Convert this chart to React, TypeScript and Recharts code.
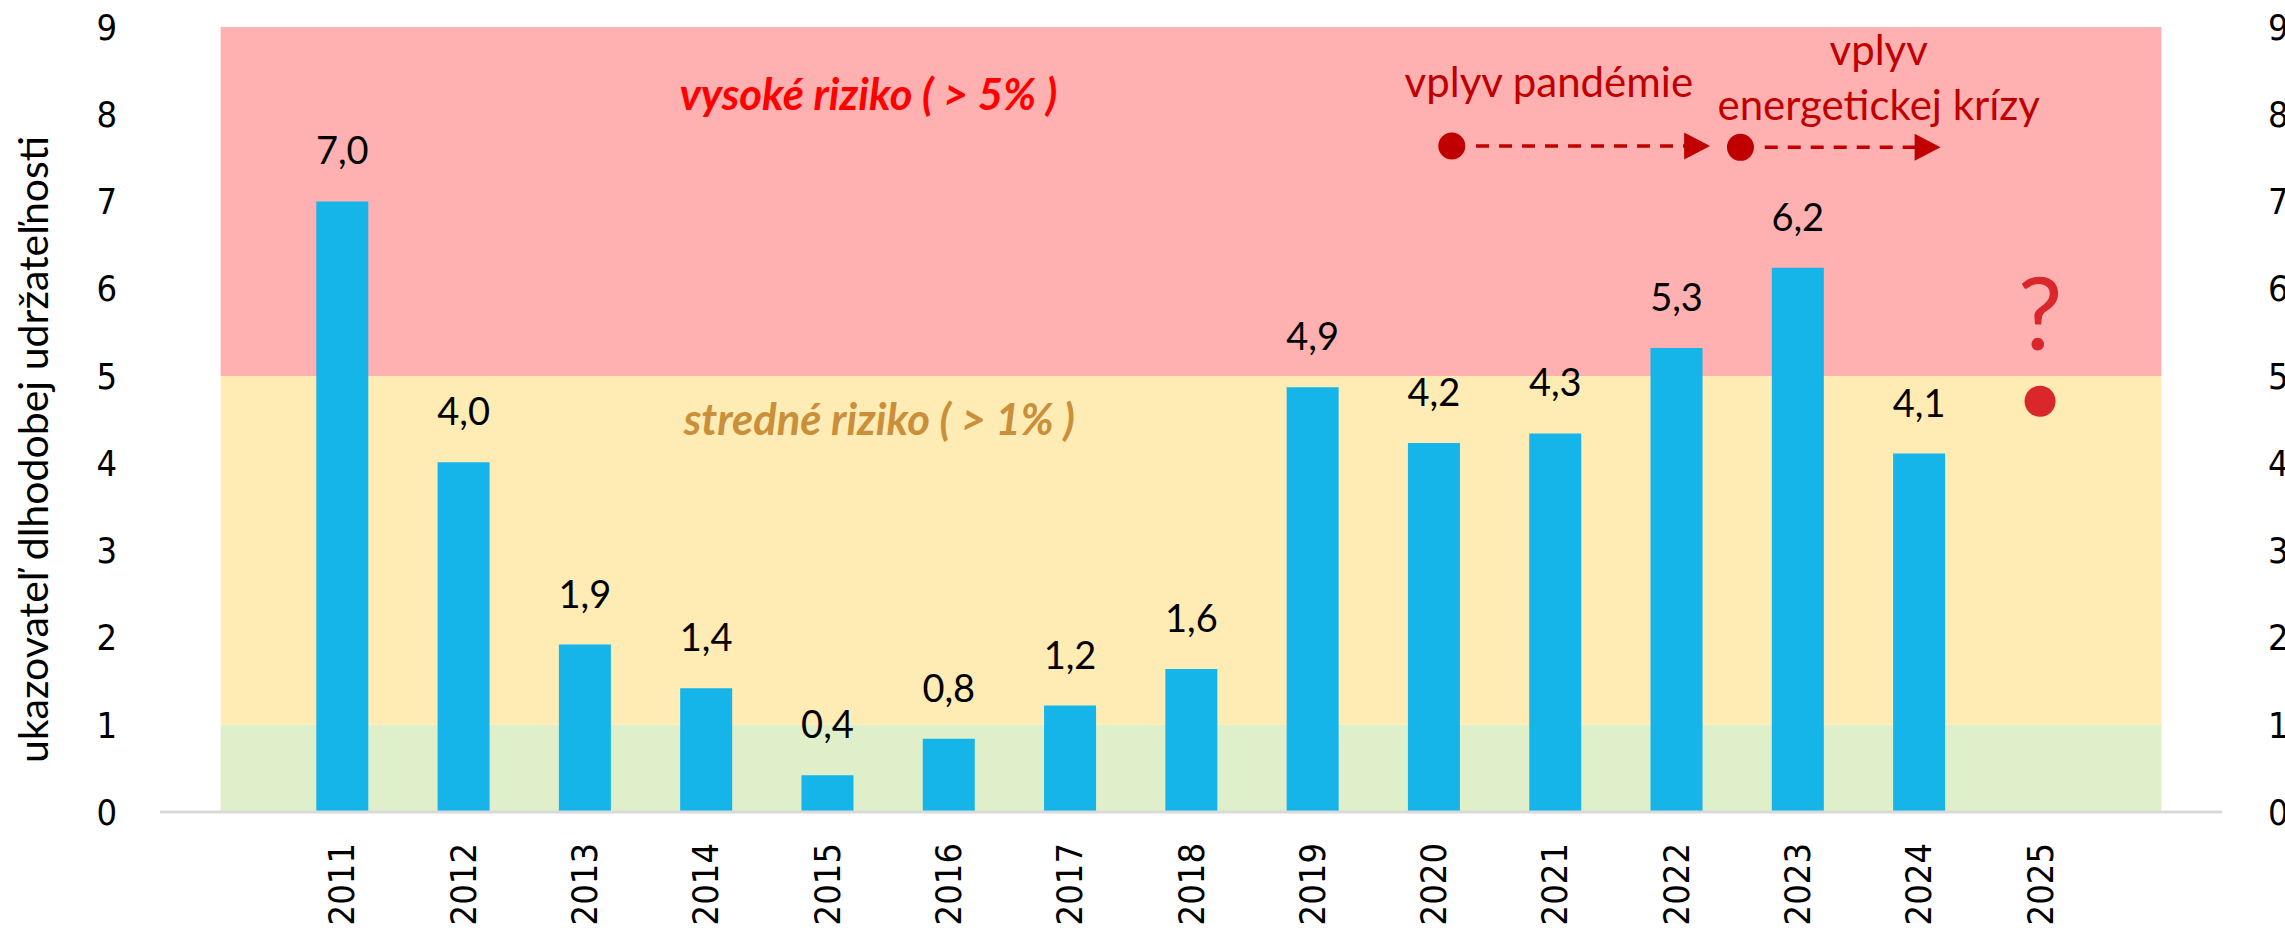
import React from "react";
import { ComposedChart, Bar, Area, Line, XAxis, YAxis, LabelList, ReferenceDot, ReferenceLine } from "recharts";

// categories (blank slots at both ends, like the original sheet)
const years = ["", "2011", "2012", "2013", "2014", "2015", "2016", "2017", "2018", "2019", "2020", "2021", "2022", "2023", "2024", "2025", ""];
const indicator = [null, 7.0, 4.01, 1.92, 1.42, 0.42, 0.84, 1.22, 1.64, 4.87, 4.23, 4.34, 5.32, 6.24, 4.11, null, null];
const forecast = [null, null, null, null, null, null, null, null, null, null, null, null, null, null, null, 4.71, null];

// risk zone limits: low < 1, medium < 5, high up to axis max
const zoneLimits = [1, 5, 9];
const yTicks = [0, 1, 2, 3, 4, 5, 6, 7, 8, 9];
const yTitle = "ukazovateľ dlhodobej udržateľnosti";

// annotations on a hidden numeric x axis (value = category index)
const zoneNotes = [
  { text: "vysoké riziko ( > 5% )", x: 5.34, y: 8.05, color: "#FF0000" },
  { text: "stredné riziko ( > 1% )", x: 5.43, y: 4.32, color: "#C98F3A" },
];
const eventNotes = [
  { text: "vplyv pandémie", x: 10.95, y: 8.2 },
  { text: "vplyv", x: 13.67, y: 8.565 },
  { text: "energetickej krízy", x: 13.67, y: 7.93 },
];
const arrows = [
  { from: 10.15, to: 12.28, y: 7.635 },
  { from: 12.53, to: 14.18, y: 7.62 },
];

const data = years.map((year, i) => ({
  year,
  slot: i,
  low: zoneLimits[0],
  mid: zoneLimits[1] - zoneLimits[0],
  high: zoneLimits[2] - zoneLimits[1],
  value: indicator[i],
  forecast: forecast[i],
}));

const tickFont = "'DejaVu Sans Condensed', 'DejaVu Sans', sans-serif";
const labelFont = "Lato, 'Open Sans', sans-serif";
const darkRed = "#C00000";
const halfBand = (2285 - 160 - 63) / years.length / 2;

const fmt = (v: any) => (v == null ? "" : Number(v).toFixed(1).replace(".", ","));

const YearTick = (props: any) => {
  const { x, y, payload } = props;
  return (
    <text x={x} y={y} transform={`rotate(-90, ${x}, ${y})`} textAnchor="end" dominantBaseline="central"
      fontFamily={tickFont} fontSize={36} fill="#000">
      {payload.value}
    </text>
  );
};

const renderTitle = (props: any) => {
  const vb = props.viewBox;
  const x = vb.x + 48;
  const y = vb.y + vb.height / 2 + 30;
  return (
    <text x={x} y={y} transform={`rotate(-90, ${x}, ${y})`} textAnchor="middle" fontFamily={labelFont} fontSize={41} fill="#000">
      {yTitle}
    </text>
  );
};

export default function App() {
  return (
    <div style={{ width: 2285, height: 946 }}>
      <style>{`body{margin:0}`}</style>
      <ComposedChart width={2285} height={946} data={data} margin={{ top: 27, right: 0, bottom: 0, left: 0 }}>
        <XAxis dataKey="year" height={134} interval={0} tickSize={0} tickMargin={31} tickLine={false}
          axisLine={{ stroke: "#D9D9D9", strokeWidth: 3 }} tick={<YearTick />} />
        <XAxis xAxisId="n" dataKey="slot" type="number" domain={[0, years.length - 1]} allowDataOverflow hide
          padding={{ left: halfBand, right: halfBand }} />
        <YAxis yAxisId="l" width={160} domain={[0, 9]} ticks={yTicks} interval={0} axisLine={false} tickLine={false}
          tickSize={0} tickMargin={43} tick={{ fontFamily: tickFont, fontSize: 36, fill: "#000" }}
          label={{ value: yTitle, content: renderTitle }} />
        <YAxis yAxisId="r" orientation="right" width={63} domain={[0, 9]} ticks={yTicks} interval={0} axisLine={false}
          tickLine={false} tickSize={0} tickMargin={46} tick={{ fontFamily: tickFont, fontSize: 36, fill: "#000" }} />

        <Area yAxisId="l" type="linear" dataKey="low" stackId="zones" stroke="none" fill="#DFEFCA" fillOpacity={1} isAnimationActive={false} />
        <Area yAxisId="l" type="linear" dataKey="mid" stackId="zones" stroke="none" fill="#FFEBB4" fillOpacity={1} isAnimationActive={false} />
        <Area yAxisId="l" type="linear" dataKey="high" stackId="zones" stroke="none" fill="#FFB0B0" fillOpacity={1} isAnimationActive={false} />

        <Bar yAxisId="l" dataKey="value" fill="#15B4E9" barSize={52} isAnimationActive={false}>
          <LabelList dataKey="value" position="top" offset={37} formatter={fmt}
            style={{ fontFamily: labelFont, fontSize: 38, fill: "#000" }} />
        </Bar>

        <Line yAxisId="r" dataKey="forecast" stroke="none" isAnimationActive={false} legendType="none"
          dot={{ r: 15.5, fill: "#D9272B", stroke: "none" }} activeDot={false}>
          <LabelList dataKey="forecast" position="top" offset={51} formatter={() => "?"}
            style={{ fontFamily: labelFont, fontSize: 100, fill: "#D9272B" }} />
        </Line>

        {zoneNotes.map((n) => (
          <ReferenceDot key={n.text} xAxisId="n" yAxisId="l" x={n.x} y={n.y} r={0} ifOverflow="visible"
            shape={(p: any) => (
              <text x={p.cx} y={p.cy} textAnchor="middle" fontFamily={labelFont} fontSize={43.5} fontWeight="bold"
                fontStyle="italic" fill={n.color}>{n.text}</text>
            )} />
        ))}
        {eventNotes.map((n) => (
          <ReferenceDot key={n.text} xAxisId="n" yAxisId="l" x={n.x} y={n.y} r={0} ifOverflow="visible"
            shape={(p: any) => (
              <text x={p.cx} y={p.cy} textAnchor="middle" fontFamily={labelFont} fontSize={42} fill={darkRed}>{n.text}</text>
            )} />
        ))}
        {arrows.map((a, i) => (
          <ReferenceLine key={"l" + i} xAxisId="n" yAxisId="l" ifOverflow="visible"
            segment={[{ x: a.from + 0.2, y: a.y }, { x: a.to - 0.2, y: a.y }]}
            stroke={darkRed} strokeWidth={3.5} strokeDasharray="13 10" />
        ))}
        {arrows.map((a, i) => (
          <ReferenceDot key={"d" + i} xAxisId="n" yAxisId="l" x={a.from} y={a.y} r={13.5} fill={darkRed} stroke="none" ifOverflow="visible" />
        ))}
        {arrows.map((a, i) => (
          <ReferenceDot key={"h" + i} xAxisId="n" yAxisId="l" x={a.to} y={a.y} r={0} ifOverflow="visible"
            shape={(p: any) => (
              <polygon points={`${p.cx - 26},${p.cy - 13.5} ${p.cx},${p.cy} ${p.cx - 26},${p.cy + 13.5}`} fill={darkRed} />
            )} />
        ))}
      </ComposedChart>
    </div>
  );
}
